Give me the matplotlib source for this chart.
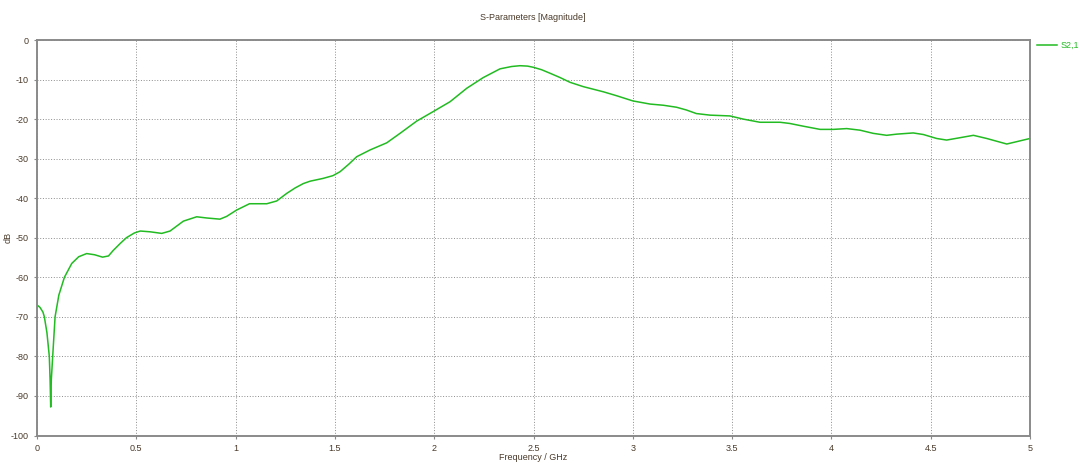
import matplotlib
matplotlib.use("Agg")
import matplotlib.pyplot as plt

plt.rcParams['font.family'] = ['Liberation Sans', 'DejaVu Sans']
plt.rcParams['axes.unicode_minus'] = False

# S2,1 magnitude (GHz, dB)
freq_ghz = [0.0, 0.015, 0.03, 0.037, 0.05, 0.062, 0.066, 0.069, 0.072, 0.079, 0.091,
            0.11, 0.138, 0.175, 0.21, 0.25, 0.29, 0.33, 0.36, 0.384, 0.42, 0.45,
            0.49, 0.52, 0.57, 0.628, 0.67, 0.737, 0.804, 0.854, 0.921, 0.955,
            1.005, 1.07, 1.157, 1.207, 1.257, 1.30, 1.341, 1.375, 1.44, 1.49,
            1.526, 1.57, 1.61, 1.677, 1.761, 1.828, 1.912, 1.995, 2.08, 2.164,
            2.247, 2.331, 2.39, 2.432, 2.47, 2.499, 2.54, 2.583, 2.634, 2.684,
            2.751, 2.852, 2.919, 3.0, 3.087, 3.154, 3.22, 3.27, 3.32, 3.389,
            3.489, 3.556, 3.64, 3.741, 3.79, 3.859, 3.943, 4.01, 4.077, 4.144,
            4.21, 4.278, 4.329, 4.412, 4.463, 4.53, 4.58, 4.648, 4.715, 4.782,
            4.883, 4.95, 5.0]
s21_db = [-67.0, -67.6, -68.8, -70.0, -74.0, -80.0, -86.0, -92.8, -86.0, -80.0, -70.0,
          -64.5, -60.0, -56.5, -54.8, -54.0, -54.3, -54.9, -54.6, -53.2, -51.4, -50.0,
          -48.8, -48.3, -48.5, -48.9, -48.3, -45.8, -44.7, -45.0, -45.3, -44.6,
          -43.0, -41.4, -41.4, -40.7, -38.8, -37.4, -36.3, -35.7, -35.0, -34.3,
          -33.3, -31.4, -29.5, -27.8, -26.0, -23.6, -20.5, -18.1, -15.6, -12.2,
          -9.5, -7.3, -6.7, -6.5, -6.6, -6.9, -7.5, -8.4, -9.5, -10.7,
          -11.8, -13.1, -14.1, -15.4, -16.2, -16.5, -17.0, -17.7, -18.6, -19.0,
          -19.2, -20.0, -20.8, -20.8, -21.1, -21.8, -22.6, -22.6, -22.4, -22.8,
          -23.6, -24.1, -23.8, -23.5, -23.9, -24.9, -25.3, -24.7, -24.1, -24.9,
          -26.3, -25.5, -24.9]

x_ticks = [0, 0.5, 1, 1.5, 2, 2.5, 3, 3.5, 4, 4.5, 5]
x_labels = ["0", "0.5", "1", "1.5", "2", "2.5", "3", "3.5", "4", "4.5", "5"]
y_ticks = list(range(-100, 1, 10))

line_color = "#22bb22"
text_color = "#4a3a2a"
frame_color = "#8a8a8a"

fig = plt.figure(figsize=(10.8, 4.63), dpi=100)
ax = fig.add_axes([37 / 1080, 27.5 / 463, 993 / 1080, 395.5 / 463])

ax.plot(freq_ghz, s21_db, color=line_color, lw=1.1, label="S2,1")

ax.set_xlim(0, 5)
ax.set_ylim(-100, 0)
ax.set_xticks(x_ticks)
ax.set_xticklabels(x_labels)
ax.set_yticks(y_ticks)
ax.grid(True, color="#8c8c8c", linestyle=(0, (1.0, 1.8)), lw=0.7)

for sp in ax.spines.values():
    sp.set_color(frame_color)
    sp.set_linewidth(1.4)

ax.tick_params(labelsize=6.5, colors=text_color, length=2, width=0.8, pad=4)
ax.tick_params(color=frame_color)

# axis labels placed in figure pixels, like the reference
fig.text(533 / 1080, 1 - 457 / 463, "Frequency / GHz", fontsize=6.5,
         color=text_color, ha="center", va="center")
fig.text(8 / 1080, 1 - 237 / 463, "dB", fontsize=6.5, color=text_color,
         rotation=90, ha="center", va="center")
fig.text(533 / 1080, 1 - 17 / 463, "S-Parameters [Magnitude]", fontsize=6.5,
         color=text_color, ha="center", va="center")

leg = ax.legend(loc="upper left", bbox_to_anchor=(1.0, 1.015), frameon=False,
                fontsize=6.5, handlelength=2.2, handletextpad=0.4, borderaxespad=0.4)
for t in leg.get_texts():
    t.set_color(line_color)

fig.savefig("out.png", dpi=100)
